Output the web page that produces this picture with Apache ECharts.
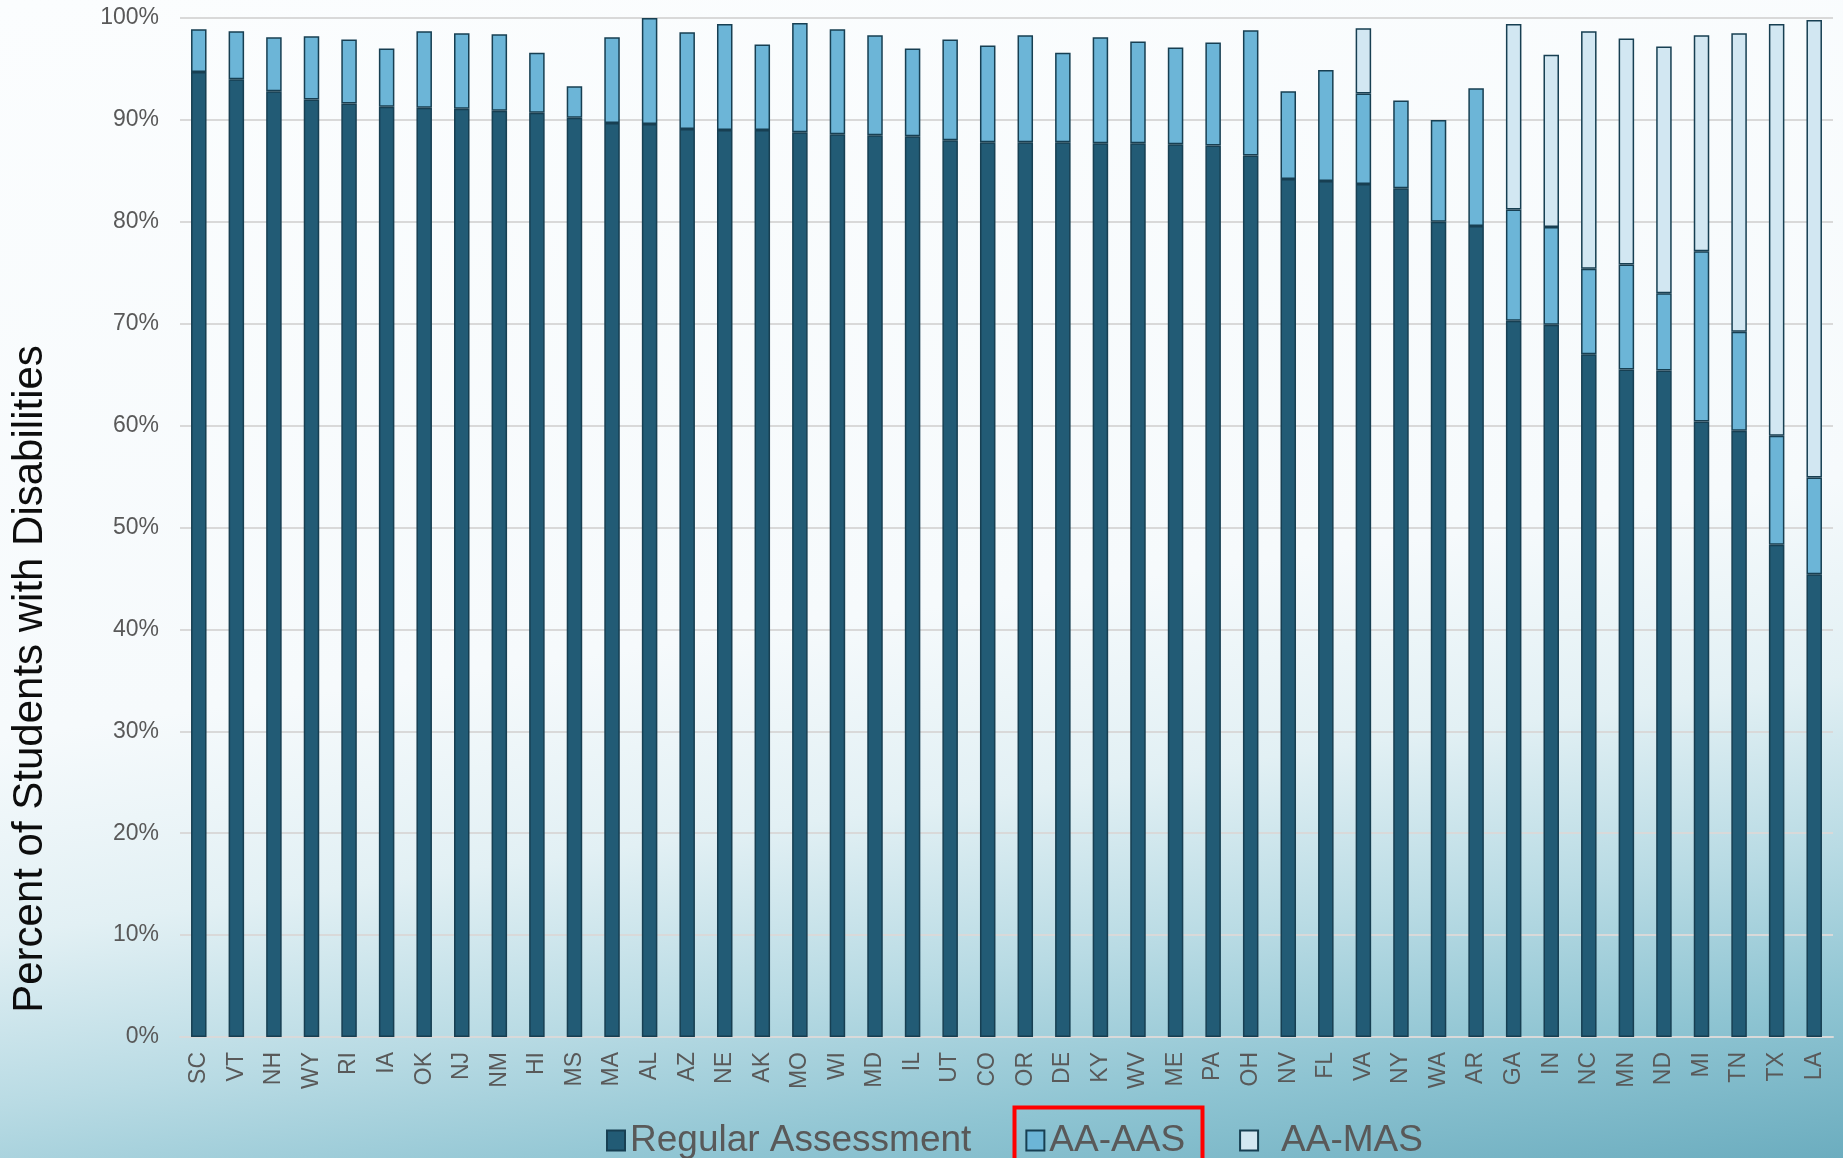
<!DOCTYPE html>
<html>
<head>
<meta charset="utf-8">
<script src="https://cdn.jsdelivr.net/npm/echarts@6/dist/echarts.min.js"></script>
<style>
html,body{margin:0;padding:0;width:1843px;height:1158px;overflow:hidden;}
body{background:linear-gradient(172deg,#fbfdfe 0%,#f6fafc 52%,#e2f0f4 66%,#b9dbe4 78%,#8ec4d2 89%,#6cadbf 100%);}
#chart{width:1843px;height:1158px;}
</style>
</head>
<body>
<div id="chart"></div>
<script>
const states = ['SC','VT','NH','WY','RI','IA','OK','NJ','NM','HI','MS','MA','AL','AZ','NE','AK','MO','WI','MD','IL','UT','CO','OR','DE','KY','WV','ME','PA','OH','NV','FL','VA','NY','WA','AR','GA','IN','NC','MN','ND','MI','TN','TX','LA'];
const regular = [94.7,94.0,92.8,92.0,91.6,91.3,91.2,91.1,90.9,90.7,90.2,89.7,89.6,89.1,89.0,89.0,88.8,88.6,88.5,88.4,88.0,87.8,87.8,87.8,87.7,87.7,87.6,87.5,86.5,84.2,84.0,83.7,83.3,80.0,79.6,70.3,69.9,67.0,65.5,65.4,60.4,59.5,48.3,45.4];
const aaAas = [4.2,4.7,5.3,6.2,6.3,5.7,7.5,7.4,7.5,5.9,3.1,8.4,10.4,9.5,10.4,8.4,10.7,10.3,9.8,8.6,9.9,9.5,10.5,8.8,10.4,10.0,9.5,10.1,12.3,8.6,10.9,8.9,8.6,10.0,13.5,10.9,9.6,8.4,10.3,7.6,16.7,9.7,10.7,9.5];
const aaMas = [null,null,null,null,null,null,null,null,null,null,null,null,null,null,null,null,null,null,null,null,null,null,null,null,null,null,null,null,null,null,null,6.4,null,null,null,18.2,16.9,23.3,22.2,24.2,21.2,29.3,40.4,44.9];
const yTicks = [0,10,20,30,40,50,60,70,80,90,100];
const seriesNames = ['Regular Assessment','AA-AAS','AA-MAS'];
const axisTitle = 'Percent of Students with Disabilities';

const chart = echarts.init(document.getElementById('chart'), null, {renderer:'canvas'});
const FONT = '"Liberation Sans", Arial, sans-serif';
const border = '#173f52';
function bar(name, data, color){
  return {
    name: name, type: 'bar', stack: 'total', data: data,
    barWidth: 15.5,
    itemStyle: {color: color, borderColor: border, borderWidth: 1.5},
    emphasis: {disabled: true}
  };
}
chart.setOption({
  animation: false,
  backgroundColor: 'transparent',
  textStyle: {fontFamily: FONT},
  grid: {left: 180, right: 10, top: 18, bottom: 121, containLabel: false, outerBoundsMode: 'none'},
  legend: {
    data: seriesNames,
    left: 601, top: 1117,
    itemWidth: 18, itemHeight: 20, itemGap: 54,
    icon: 'rect',
    formatter: function(n){ return n === 'AA-MAS' ? '{m|' + n + '}' : n; },
    textStyle: {fontSize: 37, color: '#595959', fontFamily: FONT,
      rich: {m: {fontSize: 37, color: '#595959', fontFamily: FONT, padding: [0,0,0,18]}}}
  },
  xAxis: {
    type: 'category', data: states,
    axisLine: {show: true, lineStyle: {color: '#d9d9d9', width: 2}},
    axisTick: {show: false},
    axisLabel: {rotate: 90, margin: 15, fontSize: 23, color: '#595959', fontFamily: FONT, interval: 0}
  },
  yAxis: {
    type: 'value', min: yTicks[0], max: yTicks[yTicks.length-1], interval: 10,
    axisLine: {show: false}, axisTick: {show: false},
    axisLabel: {formatter: '{value}%', fontSize: 23, color: '#595959', margin: 21, fontFamily: FONT},
    splitLine: {lineStyle: {color: '#d9d9d9', width: 2}}
  },
  graphic: [{
    type: 'text', x: 30, y: 679, rotation: Math.PI / 2, z: 100,
    style: {text: axisTitle, fontSize: 42, fill: '#0d0d0d', fontFamily: FONT, align: 'center', verticalAlign: 'middle'}
  }, {
    type: 'rect', left: 1012, top: 1105, z: 100,
    shape: {width: 188, height: 60},
    style: {fill: 'none', stroke: '#ff0000', lineWidth: 4}
  }],
  series: [
    bar(seriesNames[0], regular, '#225b75'),
    bar(seriesNames[1], aaAas, '#6cb5d7'),
    bar(seriesNames[2], aaMas, '#d2e7f2')
  ]
});
</script>
</body>
</html>
